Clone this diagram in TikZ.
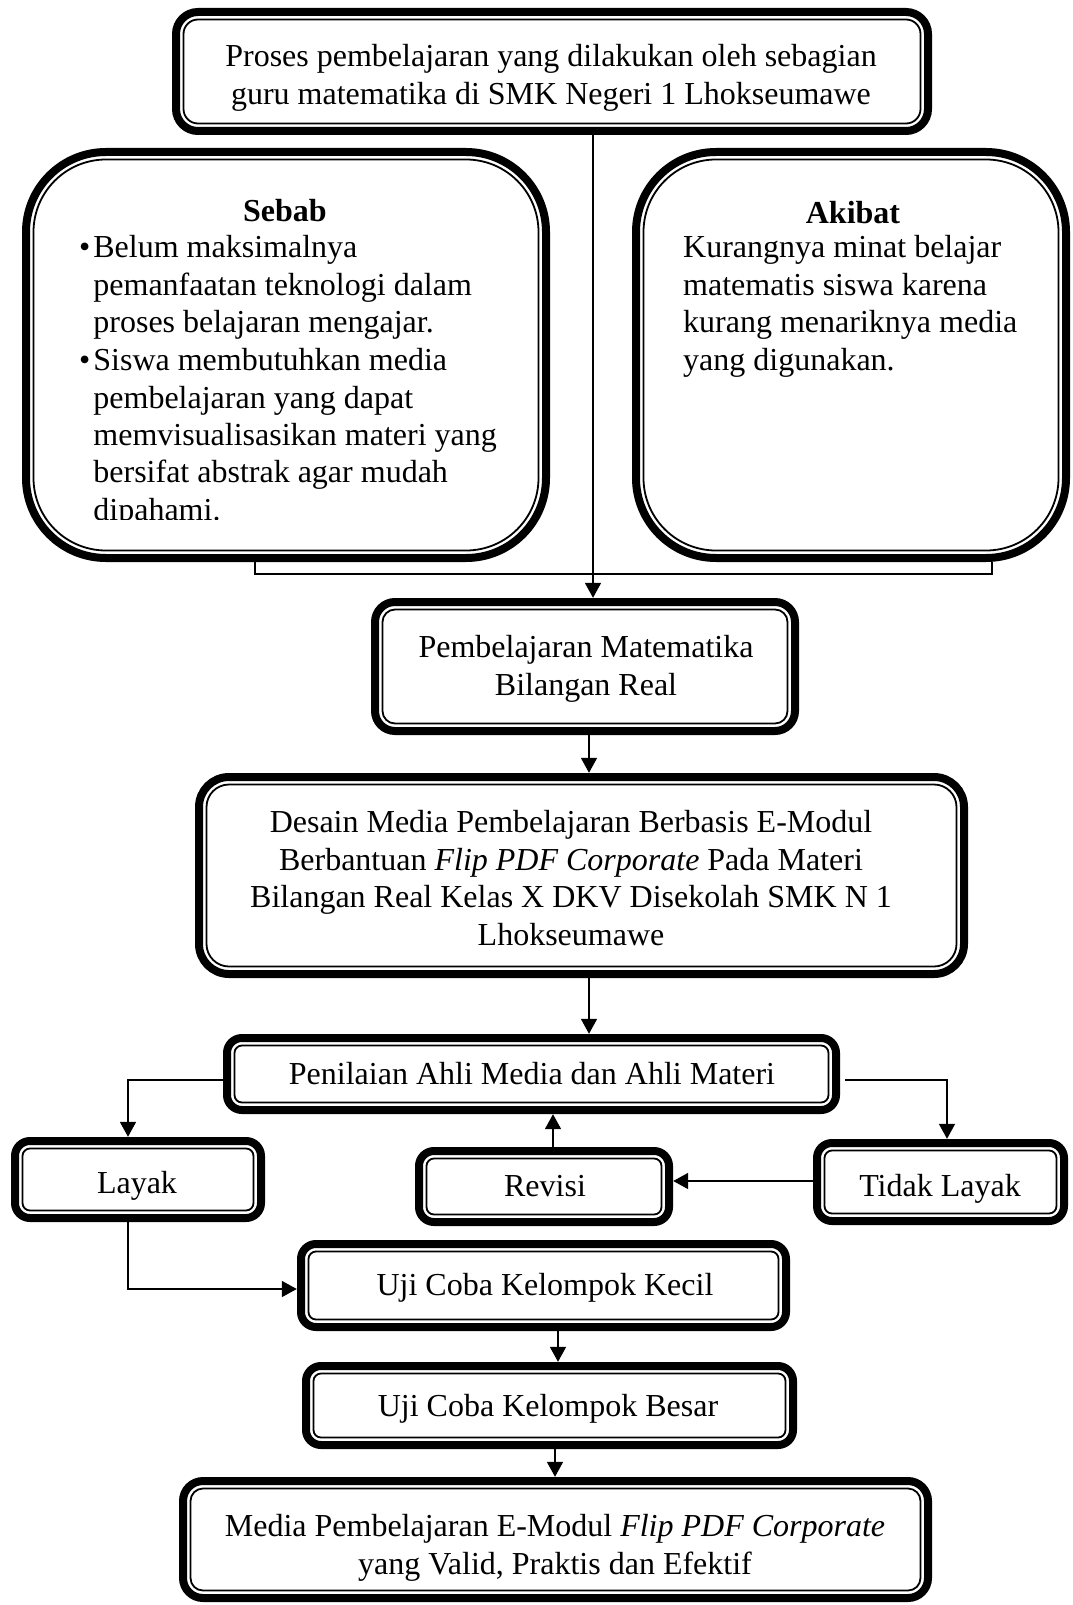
\documentclass[tikz,border=0pt]{standalone}
\usepackage{fontspec}
\setmainfont{Liberation Serif}
\usetikzlibrary{arrows.meta,fit}
\tikzset{
  conn/.style={line width=1.8pt},
  arr/.style={conn, -{Triangle[width=16pt,length=15pt]}},
  txt/.style={inner sep=0pt, font=\fontsize{32}{37.5}\selectfont, align=center},
  bodytxt/.style={inner sep=0pt, font=\fontsize{32}{37.5}\selectfont, anchor=base west},
}
\newcommand{\dblbox}[6]{%
  \pgfmathsetmacro\dbra{#6}\pgfmathsetmacro\dbrb{max(#6-7.5,2)}%
  \draw[line width=8pt, rounded corners=\dbra pt] (#2+4,#3+4) rectangle (#4-4,#5-4);
  \draw[line width=1.8pt, rounded corners=\dbrb pt] (#2+11.5,#3+11.5) rectangle (#4-11.5,#5-11.5);
  \coordinate (#1-a) at (#2,#3); \coordinate (#1-b) at (#4,#5);
  \node[fit=(#1-a)(#1-b), inner sep=0pt] (#1) {};
}
\begin{document}
\begin{tikzpicture}[x=1pt,y=-1pt]
\useasboundingbox (0,0) rectangle (1072,1605);
% frames
\dblbox{top}{172}{8}{932}{135}{22}
\dblbox{sebab}{22}{148}{550}{562}{80}
\dblbox{akibat}{632}{148}{1070}{562}{80}
\dblbox{pem}{371}{598}{799}{735}{20}
\dblbox{des}{195}{773}{968}{978}{30}
\dblbox{pen}{223}{1034}{840}{1114}{15}
\dblbox{layak}{11}{1137}{265}{1222}{15}
\dblbox{revisi}{415}{1147}{673}{1226}{15}
\dblbox{tidak}{813}{1139}{1068}{1225}{15}
\dblbox{kecil}{297}{1240}{790}{1331}{15}
\dblbox{besar}{302}{1362}{797}{1449}{15}
\dblbox{final}{179}{1477}{932}{1602}{20}
% texts
\node[txt] (t-top) at (551,78) {Proses pembelajaran yang dilakukan oleh sebagian\\guru matematika di SMK Negeri 1 Lhokseumawe};
\node[txt, font=\fontsize{32}{37.5}\selectfont\bfseries] (t-sebab) at (285,211) {Sebab};
\begin{scope}
\clip (0,0) rectangle (1072,519);
\node[bodytxt] (b-sebab) at (79,258) {\begin{tabular}[t]{@{}l@{\hspace{3pt}}l@{}}
\textbullet & Belum maksimalnya\\
 & pemanfaatan teknologi dalam\\
 & proses belajaran mengajar.\\
\textbullet & Siswa membutuhkan media\\
 & pembelajaran yang dapat\\
 & memvisualisasikan materi yang\\
 & bersifat abstrak agar mudah\\
 & dipahami.
\end{tabular}};
\end{scope}
\node[txt, font=\fontsize{32}{37.5}\selectfont\bfseries] (t-akibat) at (853,213) {Akibat};
\node[bodytxt] (b-akibat) at (683,258) {\begin{tabular}[t]{@{}l@{}}
Kurangnya minat belajar\\
matematis siswa karena\\
kurang menariknya media\\
yang digunakan.
\end{tabular}};
\node[txt] (t-pem) at (586,669) {Pembelajaran Matematika\\Bilangan Real};
\node[txt] (t-des) at (571,878) {Desain Media Pembelajaran Berbasis E-Modul\\Berbantuan \textit{Flip PDF Corporate} Pada Materi\\Bilangan Real Kelas X DKV Disekolah SMK N 1\\Lhokseumawe};
\node[txt] (t-pen) at (532,1074) {Penilaian Ahli Media dan Ahli Materi};
\node[txt] (t-layak) at (137,1186) {Layak};
\node[txt] (t-revisi) at (545,1186) {Revisi};
\node[txt] (t-tidak) at (940,1189) {Tidak Layak};
\node[txt] (t-kecil) at (545,1288) {Uji Coba Kelompok Kecil};
\node[txt] (t-besar) at (548,1409) {Uji Coba Kelompok Besar};
\node[txt] (t-final) at (555,1548) {Media Pembelajaran E-Modul \textit{Flip PDF Corporate}\\yang Valid, Praktis dan Efektif};
% helper coordinates
\coordinate (xa) at (593,0);
\coordinate (xl) at (255,0);
\coordinate (xr) at (992,0);
\coordinate (yb) at (0,574);
\coordinate (xb) at (589,0);
\coordinate (yp) at (0,1080);
\coordinate (xlay) at (128,0);
\coordinate (xtid) at (947,0);
\coordinate (yrev) at (0,1181);
\coordinate (xrev) at (553,0);
\coordinate (ykec) at (0,1289);
\coordinate (xkec) at (558,0);
\coordinate (xbes) at (555,0);
% connectors
\draw[arr] (top.south -| xa) -- (pem.north -| xa);
\draw[conn] (sebab.south -| xl) -- (xl |- yb) -- (xr |- yb) -- (akibat.south -| xr);
\draw[arr] (pem.south -| xb) -- (des.north -| xb);
\draw[arr] (des.south -| xb) -- (pen.north -| xb);
\draw[arr] (pen.west |- yp) -| (layak.north -| xlay);
\draw[arr] (pen.east |- yp) ++(5,0) -| (tidak.north -| xtid);
\draw[arr] (tidak.west |- yrev) -- (revisi.east |- yrev);
\draw[arr] (revisi.north -| xrev) -- (pen.south -| xrev);
\draw[arr] (layak.south -| xlay) |- (kecil.west |- ykec);
\draw[arr] (kecil.south -| xkec) -- (besar.north -| xkec);
\draw[arr] (besar.south -| xbes) -- (final.north -| xbes);
\end{tikzpicture}
\end{document}
